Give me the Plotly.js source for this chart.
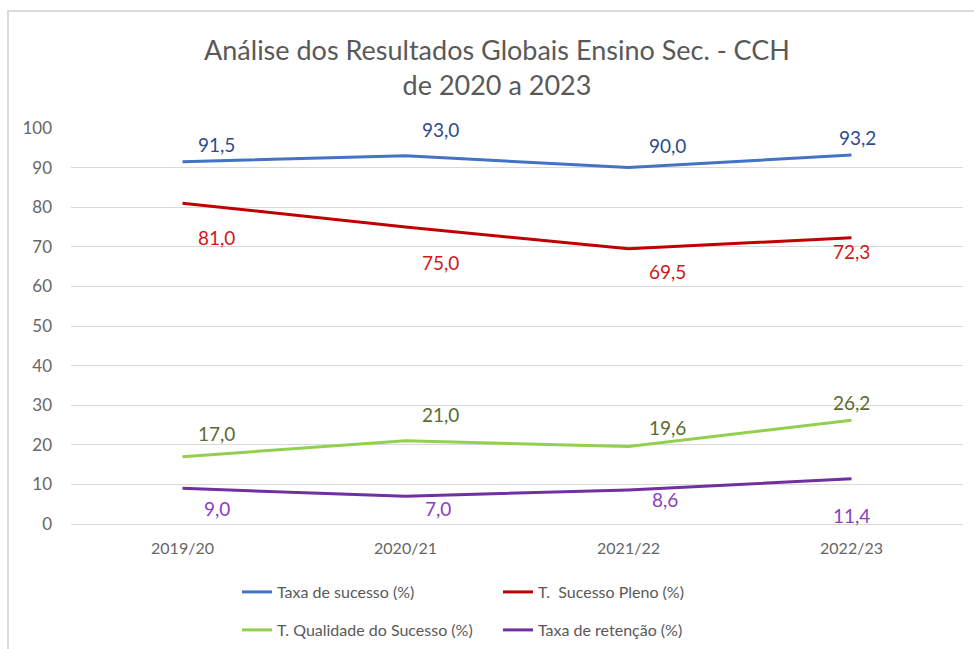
<!DOCTYPE html>
<html>
<head>
<meta charset="utf-8">
<script src="https://cdn.plot.ly/plotly-3.0.1.min.js"></script>
<style>html,body{margin:0;padding:0;background:#fff;}#chart{width:974px;height:649px;}</style>
</head>
<body>
<div id="chart"></div>
<script>
// ---- data ----
const categories = ['2019/20', '2020/21', '2021/22', '2022/23'];
const taxaSucesso = [91.5, 93.0, 90.0, 93.2];
const sucessoPleno = [81.0, 75.0, 69.5, 72.3];
const qualidadeSucesso = [17.0, 21.0, 19.6, 26.2];
const taxaRetencao = [9.0, 7.0, 8.6, 11.4];
const seriesNames = ['Taxa de sucesso (%)', 'T.  Sucesso Pleno (%)', 'T. Qualidade do Sucesso (%)', 'Taxa de retenção (%)'];
const yTicks = [0, 10, 20, 30, 40, 50, 60, 70, 80, 90, 100];

// ---- styles ----
const lineColors = ['#4472C4', '#C00000', '#92D050', '#7030A0'];
const labelColors = ['#2F4B8C', '#D01818', '#5A6B2E', '#8A40C0'];
const FONT = 'Lato, "Liberation Sans", sans-serif';
const TICK = '#666666';
// label offsets in pixels (placement of data labels relative to points)
const labelDx = [[34, 35, 39, 6], [34, 35, 39, 0], [34, 35, 39, 0], [34, 32, 36, 0]];
const labelDy = [[17, 26, 22, 17], [-34, -35, -23, -14], [23, 26, 19, 18], [-20, -12, -10, -37]];

const series = [taxaSucesso, sucessoPleno, qualidadeSucesso, taxaRetencao];
const fmt = v => v.toFixed(1).replace('.', ',');

const traces = series.map((vals, i) => ({
  type: 'scatter',
  mode: 'lines',
  x: categories,
  y: vals,
  name: seriesNames[i],
  line: {color: lineColors[i], width: 3},
  legend: i < 2 ? 'legend' : 'legend2',
  hoverinfo: 'x+y+name'
}));

const annotations = [];
series.forEach((vals, i) => {
  vals.forEach((v, j) => {
    annotations.push({
      x: categories[j], y: v, xref: 'x', yref: 'y',
      text: fmt(v), showarrow: false,
      xshift: labelDx[i][j], yshift: labelDy[i][j],
      font: {family: FONT, size: 19, color: labelColors[i]}
    });
  });
});

const L = 71, R = 11, T = 128, B = 125, W = 974, H = 649;
const pw = W - L - R, ph = H - T - B;
const px = x => (x - L) / pw;
const py = y => (H - B - y) / ph;

const legendCommon = {
  orientation: 'h', xanchor: 'left', yanchor: 'middle',
  entrywidth: 216, entrywidthmode: 'pixels',
  font: {family: FONT, size: 16, color: '#595959'},
  bgcolor: 'rgba(0,0,0,0)', itemclick: false, itemdoubleclick: false
};

const layout = {
  width: W, height: H,
  margin: {l: L, r: R, t: T, b: B, pad: 0, autoexpand: false},
  paper_bgcolor: '#ffffff',
  plot_bgcolor: '#ffffff',
  font: {family: FONT, size: 16, color: '#595959'},
  title: {
    text: 'Análise dos Resultados Globais Ensino Sec. - CCH<br>de 2020 a 2023',
    font: {family: FONT, size: 27, color: '#595959'},
    x: 497 / W, xanchor: 'center', xref: 'container', y: 1 - 60 / H, yanchor: 'middle', yref: 'container'
  },
  xaxis: {
    type: 'category',
    range: [-0.5, 3.5],
    showgrid: false, zeroline: false, showline: false,
    ticks: '', ticklabelstandoff: 13,
    tickfont: {family: FONT, size: 16, color: TICK},
    fixedrange: true
  },
  yaxis: {
    range: [0, 100],
    tickvals: yTicks,
    ticktext: yTicks.map(String),
    showgrid: true, gridcolor: '#D9D9D9', gridwidth: 1,
    zeroline: true, zerolinecolor: '#D9D9D9', zerolinewidth: 1,
    showline: false, ticks: '', ticklabelstandoff: 18,
    tickfont: {family: FONT, size: 17, color: TICK},
    fixedrange: true
  },
  showlegend: true,
  legend: Object.assign({x: px(237), y: py(592)}, legendCommon),
  legend2: Object.assign({x: px(237), y: py(630)}, legendCommon),
  annotations: annotations,
  shapes: [{
    type: 'rect', xref: 'paper', yref: 'paper',
    x0: px(8), x1: px(990), y0: py(665), y1: py(11),
    line: {color: '#D0D0D0', width: 1.5}, fillcolor: 'rgba(0,0,0,0)', layer: 'below'
  }]
};

Plotly.newPlot('chart', traces, layout, {displayModeBar: false, staticPlot: true});
</script>
</body>
</html>
